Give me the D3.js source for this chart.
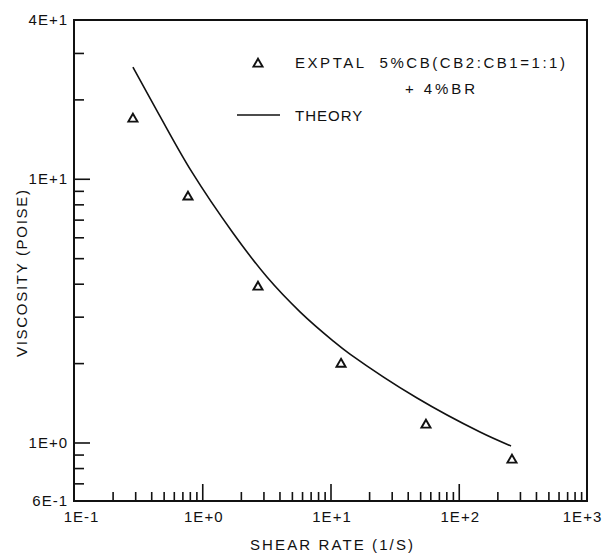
<!DOCTYPE html>
<html>
<head>
<meta charset="utf-8">
<script src="https://cdn.jsdelivr.net/npm/d3@7"></script>
<style>
  body { margin: 0; background: #fff; }
  svg text { font-family: "Liberation Sans", Arial, sans-serif; fill: #111; }
</style>
</head>
<body>
<div id="chart"></div>
<script>
// experimental points (triangles)
const expX = [0.288, 0.774, 2.72, 12.08, 55.5, 260];
const expY = [17.0, 8.61, 3.92, 2.00, 1.175, 0.866];

// theory curve
const theoryX = [0.288, 0.455, 0.827, 1.737, 3.198, 5.785, 10.46, 14.19, 47.3, 146.5, 255.6];
const theoryY = [26.5, 17.7, 10.64, 6.23, 4.24, 3.13, 2.43, 2.165, 1.475, 1.096, 0.970];

// ticks
const xLabelTicks = [0.1, 1, 10, 100, 1000];
const xLabelText = ["1E-1", "1E+0", "1E+1", "1E+2", "1E+3"];
const xMajorTicks = [1, 10, 100];
const xMinorTicks = [0.2, 0.3, 0.4, 0.5, 0.6, 0.7, 0.8, 0.9,
                     2, 3, 4, 5, 6, 7, 8, 9,
                     20, 30, 40, 50, 60, 70, 80, 90,
                     200, 300, 400, 500, 600, 700, 800, 900];
const yLabelTicks = [40, 10, 1, 0.6];
const yLabelText = ["4E+1", "1E+1", "1E+0", "6E-1"];
const yMajorTicks = [10, 1];
const yMinorTicks = [0.7, 0.8, 0.9, 2, 3, 4, 5, 6, 7, 8, 9, 20, 30];

const width = 605, height = 553;
const mLeft = 74, mRight = 587, mTop = 20, mBottom = 501;

const svg = d3.select("#chart").append("svg")
    .attr("width", width)
    .attr("height", height);

const x = d3.scaleLog().domain([0.1, 1000]).range([mLeft, mRight]);
const y = d3.scaleLog().domain([0.6, 40]).range([mBottom, mTop]);

function fmt(vals, texts) {
    return d => texts[vals.indexOf(d)];
}

function addAxis(axis, transform) {
    const g = svg.append("g").attr("transform", transform).call(axis);
    g.select(".domain").remove();
    g.selectAll(".tick line").attr("stroke", "#111").attr("stroke-width", 1.6);
    g.selectAll("text").style("font-size", "15px").style("letter-spacing", "1px").attr("fill", "#111");
    return g;
}

// x axis: minor, major, labels
addAxis(d3.axisBottom(x).tickValues(xMinorTicks).tickSize(-9).tickFormat(""), `translate(0,${mBottom})`);
addAxis(d3.axisBottom(x).tickValues(xMajorTicks).tickSize(-17).tickFormat(""), `translate(0,${mBottom})`);
const xl = addAxis(d3.axisBottom(x).tickValues(xLabelTicks).tickSize(0).tickPadding(10)
    .tickFormat(fmt(xLabelTicks, xLabelText)), `translate(0,${mBottom})`);
// end labels sit a bit inside the frame corners
xl.selectAll("text").attr("dx", (d, i) => i === 0 ? 7 : (i === xLabelTicks.length - 1 ? -5 : 1));

// y axis
addAxis(d3.axisLeft(y).tickValues(yMinorTicks).tickSize(-10).tickFormat(""), `translate(${mLeft},0)`);
addAxis(d3.axisLeft(y).tickValues(yMajorTicks).tickSize(-16).tickFormat(""), `translate(${mLeft},0)`);
addAxis(d3.axisLeft(y).tickValues(yLabelTicks).tickSize(0).tickPadding(6)
    .tickFormat(fmt(yLabelTicks, yLabelText)), `translate(${mLeft},0)`);

// frame
svg.append("rect")
    .attr("x", mLeft).attr("y", mTop)
    .attr("width", mRight - mLeft).attr("height", mBottom - mTop)
    .attr("fill", "none").attr("stroke", "#111").attr("stroke-width", 2);

// theory line
const line = d3.line()
    .x((d, i) => x(theoryX[i]))
    .y(d => y(d))
    .curve(d3.curveCatmullRom.alpha(0.5));
svg.append("path")
    .datum(theoryY)
    .attr("d", line)
    .attr("fill", "none")
    .attr("stroke", "#111")
    .attr("stroke-width", 1.6);

// experimental triangles
const tri = d3.symbol().type(d3.symbolTriangle).size(36);
svg.selectAll(".pt")
    .data(expY)
    .enter().append("path")
    .attr("class", "pt")
    .attr("d", tri)
    .attr("transform", (d, i) => `translate(${x(expX[i])},${y(d) + 1})`)
    .attr("fill", "none")
    .attr("stroke", "#111")
    .attr("stroke-width", 1.9);

// legend
svg.append("path")
    .attr("d", tri)
    .attr("transform", "translate(258,64)")
    .attr("fill", "none").attr("stroke", "#111").attr("stroke-width", 1.9);
svg.append("text").attr("x", 295).attr("y", 68)
    .style("font-size", "15px")
    .attr("xml:space", "preserve")
    .attr("textLength", 270).attr("lengthAdjust", "spacing")
    .text("EXPTAL  5%CB(CB2:CB1=1:1)");
svg.append("text").attr("x", 405).attr("y", 94)
    .style("font-size", "15px")
    .attr("xml:space", "preserve")
    .attr("textLength", 70).attr("lengthAdjust", "spacing")
    .text("+ 4%BR");
svg.append("line")
    .attr("x1", 237).attr("x2", 280).attr("y1", 115).attr("y2", 115)
    .attr("stroke", "#111").attr("stroke-width", 1.6);
svg.append("text").attr("x", 295).attr("y", 121)
    .style("font-size", "15px").style("letter-spacing", "1px")
    .text("THEORY");

// axis titles
svg.append("text")
    .attr("x", 250).attr("y", 550)
    .style("font-size", "15px")
    .attr("textLength", 163).attr("lengthAdjust", "spacing")
    .text("SHEAR RATE (1/S)");
svg.append("text")
    .attr("transform", "translate(27,357) rotate(-90)")
    .style("font-size", "15px")
    .attr("textLength", 167).attr("lengthAdjust", "spacing")
    .text("VISCOSITY (POISE)");
</script>
</body>
</html>
